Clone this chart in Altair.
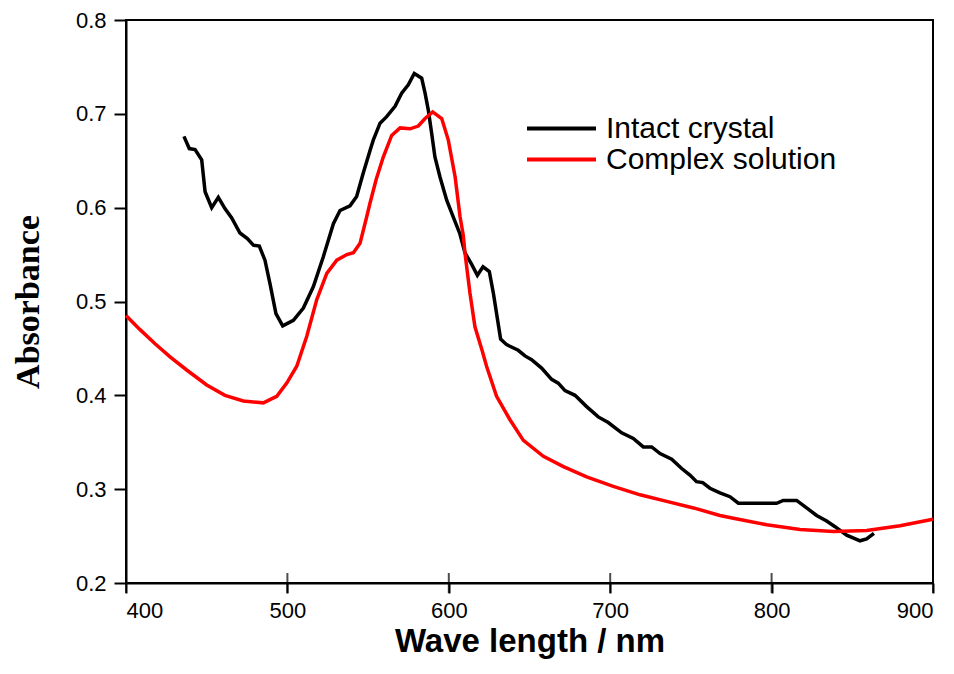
import altair as alt
import pandas as pd

# Intact crystal (black)
crystal_nm = [435.9, 439.2, 442.8, 446.9, 449.0, 453.1, 457.2, 461.3, 465.5, 470.6,
              475.2, 478.9, 482.6, 486.1, 489.2, 492.9, 497.1, 503.7, 509.9, 516.1,
              522.3, 528.5, 532.6, 538.8, 542.9, 547.0, 551.2, 553.2, 557.4, 561.5,
              566.7, 570.8, 574.9, 578.6, 583.2, 585.3, 587.3, 589.4, 591.4, 594.5,
              598.7, 602.8, 606.9, 610.0, 614.0, 617.7, 621.2, 625.1, 627.6, 632.1,
              635.8, 643.0, 647.2, 651.3, 657.5, 663.7, 667.8, 672.0, 678.2, 685.4,
              692.6, 698.8, 707.1, 714.3, 720.5, 725.7, 730.9, 738.1, 744.3, 749.4,
              753.5, 757.3, 761.8, 768.0, 774.2, 779.4, 791.0, 803.1, 807.2, 815.5,
              821.7, 827.9, 834.1, 839.3, 846.5, 854.8, 858.9, 863.4]
crystal_abs = [0.676, 0.663, 0.662, 0.651, 0.617, 0.600, 0.611, 0.599, 0.589, 0.573,
               0.567, 0.560, 0.559, 0.544, 0.519, 0.487, 0.474, 0.480, 0.493, 0.516,
               0.548, 0.583, 0.597, 0.602, 0.612, 0.637, 0.661, 0.672, 0.690, 0.697,
               0.708, 0.722, 0.731, 0.743, 0.738, 0.722, 0.704, 0.679, 0.654, 0.633,
               0.608, 0.590, 0.572, 0.552, 0.540, 0.528, 0.537, 0.532, 0.509, 0.460,
               0.454, 0.448, 0.442, 0.438, 0.429, 0.417, 0.413, 0.405, 0.400, 0.388,
               0.377, 0.371, 0.360, 0.354, 0.345, 0.345, 0.338, 0.332, 0.322, 0.315,
               0.308, 0.307, 0.301, 0.296, 0.292, 0.285, 0.285, 0.285, 0.288, 0.288,
               0.280, 0.272, 0.266, 0.260, 0.251, 0.245, 0.247, 0.253]

# Complex solution (red)
solution_nm = [400.0, 408.7, 418.0, 427.3, 437.6, 450.0, 461.3, 472.7, 485.1, 493.4,
               499.6, 505.8, 512.0, 518.2, 524.4, 530.6, 536.8, 540.9, 545.0, 549.1,
               551.2, 555.0, 559.4, 564.6, 569.8, 576.0, 581.1, 585.3, 590.0, 595.6,
               599.7, 603.9, 607.0, 609.0, 610.0, 613.1, 616.2, 620.6, 623.4, 629.6,
               637.9, 646.2, 658.6, 671.0, 685.4, 701.9, 718.5, 735.0, 751.6, 768.0,
               776.3, 797.0, 817.6, 838.3, 858.9, 879.6, 900.0]
solution_abs = [0.485, 0.470, 0.455, 0.441, 0.427, 0.411, 0.400, 0.394, 0.392, 0.399,
                0.413, 0.431, 0.463, 0.502, 0.530, 0.544, 0.550, 0.552, 0.562, 0.590,
                0.605, 0.630, 0.654, 0.677, 0.685, 0.684, 0.687, 0.695, 0.702, 0.695,
                0.672, 0.633, 0.590, 0.570, 0.552, 0.509, 0.473, 0.448, 0.431, 0.399,
                0.374, 0.352, 0.335, 0.324, 0.313, 0.303, 0.294, 0.287, 0.280, 0.272,
                0.269, 0.262, 0.257, 0.255, 0.256, 0.261, 0.268]

series_names = ["Intact crystal", "Complex solution"]
series_colors = ["#000000", "#ff0000"]
x_ticks = [400, 500, 600, 700, 800, 900]
y_ticks = [0.2, 0.3, 0.4, 0.5, 0.6, 0.7, 0.8]

df_crystal = pd.DataFrame({"nm": crystal_nm, "abs": crystal_abs, "series": series_names[0],
                           "order": range(len(crystal_nm))})
df_solution = pd.DataFrame({"nm": solution_nm, "abs": solution_abs, "series": series_names[1],
                            "order": range(len(solution_nm))})

xscale = alt.Scale(domain=[400, 900], nice=False, zero=False)
yscale = alt.Scale(domain=[0.2, 0.8], nice=False, zero=False)

x_enc = alt.X("nm:Q", scale=xscale,
              axis=alt.Axis(title="Wave length / nm", values=x_ticks, format="d",
                            tickSize=10, tickWidth=2, domainWidth=2, domainColor="black",
                            tickColor="black", labelFontSize=22, labelFont="Liberation Sans",
                            labelColor="black", labelPadding=7, grid=False,
                            titleFont="Liberation Sans", titleFontSize=33, titleFontWeight="bold",
                            titleColor="black", titlePadding=4))
y_enc = alt.Y("abs:Q", scale=yscale,
              axis=alt.Axis(title="Absorbance", values=y_ticks, format=".1f",
                            tickSize=12, tickWidth=2, domainWidth=2, domainColor="black",
                            tickColor="black", labelFontSize=22, labelFont="Liberation Sans",
                            labelColor="black", labelPadding=8, grid=False,
                            titleFont="Liberation Serif", titleFontSize=34, titleFontWeight="bold",
                            titleColor="black", titlePadding=30))


def legend_at(y):
    return alt.Legend(title=None, orient="none", legendX=399, legendY=y,
                      symbolType="stroke", symbolSize=4761, symbolStrokeWidth=4,
                      labelFontSize=30, labelFont="Liberation Sans",
                      labelColor="black", labelOffset=8, labelLimit=0, padding=0)


crystal_line = alt.Chart(df_crystal).mark_line(strokeWidth=3.5, clip=False).encode(
    x=x_enc, y=y_enc,
    color=alt.Color("series:N",
                    scale=alt.Scale(domain=[series_names[0]], range=[series_colors[0]]),
                    legend=legend_at(72)),
    order="order:Q",
)

solution_line = alt.Chart(df_solution).mark_line(strokeWidth=3.5, clip=False).encode(
    x=x_enc, y=y_enc,
    color=alt.Color("series:N",
                    scale=alt.Scale(domain=[series_names[1]], range=[series_colors[1]]),
                    legend=legend_at(103)),
    order="order:Q",
)

ticks_df = pd.DataFrame({"nm": x_ticks, "abs": [0.2] * len(x_ticks)})
inner_ticks = alt.Chart(ticks_df).mark_tick(orient="vertical", size=20, thickness=2,
                                            color="black").encode(
    x=alt.X("nm:Q", scale=xscale),
    y=alt.Y("abs:Q", scale=yscale),
)

chart = alt.layer(inner_ticks, crystal_line, solution_line).resolve_scale(
    color="independent"
).properties(
    width=807, height=563,
    autosize=alt.AutoSizeParams(type="none"),
    padding={"left": 118, "top": 12, "right": 12, "bottom": 83},
    background="white",
).configure_view(stroke="black", strokeWidth=2)

chart.save("out.html", embed_options={"renderer": "svg", "actions": False})
